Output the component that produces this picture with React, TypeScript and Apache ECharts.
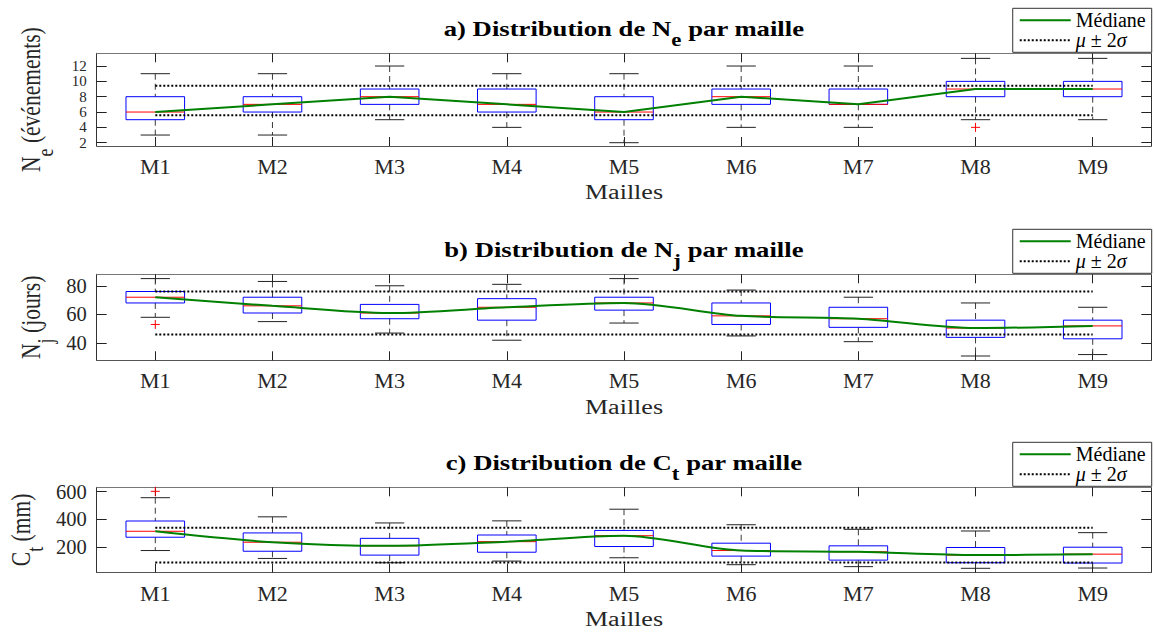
import { useEffect, useRef } from 'react';
import * as echarts from 'echarts';

const FONT = '"Liberation Serif", "Times New Roman", Times, serif';
const STRETCH = 1.27;

const categories = ['M1', 'M2', 'M3', 'M4', 'M5', 'M6', 'M7', 'M8', 'M9'];

// a) N_e (événements)
const neLow = [3, 3, 5, 4, 2, 4, 4, 5, 5];
const neQ1 = [5, 6, 7, 6, 5, 7, 7, 8, 8];
const neMedian = [6, 7, 8, 7, 6, 8, 7, 9, 9];
const neQ3 = [8, 8, 9, 9, 8, 9, 9, 10, 10];
const neHigh = [11, 11, 12, 11, 11, 12, 12, 13, 13];
const neOutliers = [[7, 4]];
const neBand = [5.57, 9.43];
const neTicks = [2, 4, 6, 8, 10, 12];

// b) N_j (jours)
const njLow = [58, 55, 47, 42, 54, 45, 41, 31, 32];
const njQ1 = [68, 61, 57, 56, 63, 53, 51, 44, 43];
const njMedian = [72, 66, 61, 65, 68, 59, 57, 50.5, 52];
const njQ3 = [76, 72, 67, 71, 72, 68, 65, 56, 56];
const njHigh = [85, 83, 80, 81, 85, 77, 72, 68, 65];
const njOutliers = [[0, 53]];
const njBand = [46, 76];
const njTicks = [40, 60, 80];

// c) C_t (mm)
const ctLow = [176, 119, 88, 100, 124, 74, 60, 48, 50];
const ctQ1 = [272, 171, 143, 164, 205, 136, 107, 88, 86];
const ctMedian = [315, 236, 210, 240, 283, 176, 167, 143, 150];
const ctQ3 = [389, 303, 264, 288, 321, 229, 210, 198, 200];
const ctHigh = [557, 419, 375, 390, 474, 362, 329, 317, 305];
const ctOutliers = [[0, 603]];
const ctBand = [90, 340];
const ctTicks = [200, 400, 600];

const panelTitles = [
  'a) Distribution de {n|N}{s|e}{n| par maille}',
  'b) Distribution de {n|N}{s|j}{n| par maille}',
  'c) Distribution de {n|C}{s|t}{n| par maille}',
];
const yLabels = [
  '{n|N}{s|e}{n| (événements)}',
  '{n|N}{s|j}{n| (jours)}',
  '{n|C}{s|t}{n| (mm)}',
];
const xLabel = 'Mailles';
const legendNames = ['Médiane', 'μ ± 2σ'];

const panels = [
  { low: neLow, q1: neQ1, med: neMedian, q3: neQ3, high: neHigh, out: neOutliers, band: neBand, ticks: neTicks, min: 1.57, max: 13.66, smooth: false as any, tickFont: 15, tickLH: 12 },
  { low: njLow, q1: njQ1, med: njMedian, q3: njQ3, high: njHigh, out: njOutliers, band: njBand, ticks: njTicks, min: 28, max: 88, smooth: 0.3 as any, tickFont: 20.5, tickLH: 21 },
  { low: ctLow, q1: ctQ1, med: ctMedian, q3: ctQ3, high: ctHigh, out: ctOutliers, band: ctBand, ticks: ctTicks, min: 17, max: 632, smooth: 0.3 as any, tickFont: 20.5, tickLH: 21 },
];

const GRID_LEFT = 96.7;
const GRID_RIGHT = 2.7;
const gridTops = [53.3, 274.3, 487.3];
const gridHeights = [92.7, 86, 85.3];
const yLabelX = [30.8, 30.8, 20.8];
const CENTER_X = (GRID_LEFT + (1154 - GRID_RIGHT)) / 2;

const renderBox = (_params: any, api: any) => {
  const i = api.value(0);
  const [x, yLo] = api.coord([i, api.value(1)]);
  const yQ1 = api.coord([i, api.value(2)])[1];
  const yMed = api.coord([i, api.value(3)])[1];
  const yQ3 = api.coord([i, api.value(4)])[1];
  const yHi = api.coord([i, api.value(5)])[1];
  const band = api.size([1, 0])[0];
  const bw = band * 0.25;
  const cw = band * 0.125;
  const dash = { stroke: '#3a3a3a', lineWidth: 1, lineDash: [6, 4], fill: null };
  const solid = { stroke: '#222', lineWidth: 1, fill: null };
  return {
    type: 'group',
    children: [
      { type: 'line', shape: { x1: x, y1: yHi, x2: x, y2: yQ3 }, style: dash },
      { type: 'line', shape: { x1: x, y1: yQ1, x2: x, y2: yLo }, style: dash },
      { type: 'line', shape: { x1: x - cw, y1: yHi, x2: x + cw, y2: yHi }, style: solid },
      { type: 'line', shape: { x1: x - cw, y1: yLo, x2: x + cw, y2: yLo }, style: solid },
      { type: 'rect', shape: { x: x - bw, y: yQ3, width: 2 * bw, height: yQ1 - yQ3 }, style: { fill: 'none', stroke: '#0000ff', lineWidth: 1 } },
      { type: 'line', shape: { x1: x - bw, y1: yMed, x2: x + bw, y2: yMed }, style: { stroke: '#ff0000', lineWidth: 1 } },
    ],
  };
};

const renderOutlier = (_params: any, api: any) => {
  const [x, y] = api.coord([api.value(0), api.value(1)]);
  const s = 4.5;
  return {
    type: 'group',
    children: [
      { type: 'line', shape: { x1: x - s, y1: y, x2: x + s, y2: y }, style: { stroke: '#ff0000', lineWidth: 1 } },
      { type: 'line', shape: { x1: x, y1: y - s, x2: x, y2: y + s }, style: { stroke: '#ff0000', lineWidth: 1 } },
    ],
  };
};

function buildOption() {
  const grid = panels.map((_p, k) => ({
    left: GRID_LEFT, right: GRID_RIGHT, top: gridTops[k], height: gridHeights[k], containLabel: false,
  }));

  const xAxis: any[] = [];
  const yAxis: any[] = [];
  panels.forEach((p, k) => {
    xAxis.push({
      type: 'category', gridIndex: k, data: categories, position: 'bottom', boundaryGap: true,
      axisLine: { show: true, onZero: false, lineStyle: { color: '#555', width: 1 } },
      axisTick: { show: true, inside: true, length: 9, alignWithLabel: true, interval: 0, lineStyle: { color: '#222' } },
      axisLabel: { show: true, interval: 0, margin: 9.5, fontFamily: FONT, fontSize: 22, color: '#262626' },
      splitLine: { show: false },
    });
    xAxis.push({
      type: 'category', gridIndex: k, data: categories, position: 'top', boundaryGap: true,
      axisLine: { show: true, onZero: false, lineStyle: { color: '#777', width: 1 } },
      axisTick: { show: true, inside: true, length: 9, alignWithLabel: true, interval: 0, lineStyle: { color: '#222' } },
      axisLabel: { show: false },
      splitLine: { show: false },
    });
    yAxis.push({
      type: 'value', gridIndex: k, position: 'left', min: p.min, max: p.max,
      axisLine: { show: true, lineStyle: { color: '#333', width: 1 } },
      axisTick: { show: true, inside: true, length: 10, interval: 0, customValues: p.ticks, lineStyle: { color: '#222' } },
      axisLabel: {
        show: true, interval: 0, customValues: p.ticks, margin: 10, fontFamily: FONT, fontSize: p.tickFont,
        lineHeight: p.tickLH, color: '#262626', showMinLabel: true, showMaxLabel: true, hideOverlap: false,
      },
      splitLine: { show: false },
    });
    yAxis.push({
      type: 'value', gridIndex: k, position: 'right', min: p.min, max: p.max,
      axisLine: { show: true, lineStyle: { color: '#333', width: 1 } },
      axisTick: { show: true, inside: true, length: 10, interval: 0, customValues: p.ticks, lineStyle: { color: '#222' } },
      axisLabel: { show: false, customValues: p.ticks },
      splitLine: { show: false },
    });
  });

  const series: any[] = [];
  panels.forEach((p, k) => {
    const axes = { xAxisIndex: 2 * k, yAxisIndex: 2 * k };
    series.push({
      type: 'custom', ...axes, z: 2, silent: true,
      data: categories.map((_c, i) => [i, p.low[i], p.q1[i], p.med[i], p.q3[i], p.high[i]]),
      encode: { x: 0, y: [1, 2, 3, 4, 5] },
      renderItem: renderBox,
    });
    series.push({
      type: 'line', name: legendNames[1], ...axes, z: 3, silent: true,
      data: categories.map(() => p.band[1]), symbol: 'none',
      lineStyle: { color: '#000', width: 2, type: [2, 2] }, itemStyle: { color: '#000' },
    });
    series.push({
      type: 'line', name: legendNames[1], ...axes, z: 3, silent: true,
      data: categories.map(() => p.band[0]), symbol: 'none',
      lineStyle: { color: '#000', width: 2, type: [2, 2] }, itemStyle: { color: '#000' },
    });
    series.push({
      type: 'line', name: legendNames[0], ...axes, z: 4, silent: true,
      data: p.med, symbol: 'none', smooth: p.smooth,
      lineStyle: { color: '#008000', width: 2 }, itemStyle: { color: '#008000' },
    });
    series.push({
      type: 'custom', ...axes, z: 5, silent: true,
      data: p.out, encode: { x: 0, y: 1 },
      renderItem: renderOutlier,
    });
  });

  const legend = gridTops.map((t) => ({
    data: legendNames, orient: 'vertical', right: 2.3, top: t - 45,
    itemWidth: 51, itemHeight: 14, itemGap: 0, padding: [2, 6, 2, 6],
    borderColor: '#333', borderWidth: 1, backgroundColor: '#fff', align: 'left', selectedMode: false,
    itemStyle: { opacity: 0 },
    textStyle: {
      fontFamily: FONT, fontSize: 20, color: '#000',
      rich: {
        i: { fontFamily: FONT, fontSize: 20, fontStyle: 'italic', color: '#000' },
        r: { fontFamily: FONT, fontSize: 20, color: '#000' },
      },
    },
    formatter: (n: string) => (n === legendNames[1] ? '{i|μ}{r| ± 2}{i|σ}' : '{r|' + n + '}'),
  }));

  const graphic: any[] = [];
  gridTops.forEach((t, k) => {
    graphic.push({
      type: 'text', x: CENTER_X, y: t - 24.5, scaleX: STRETCH, silent: true,
      style: {
        text: panelTitles[k], fontFamily: FONT, fontSize: 21, fontWeight: 'bold', fill: '#000',
        align: 'center', verticalAlign: 'middle', textAlign: 'center', textVerticalAlign: 'middle',
        rich: {
          n: { fontFamily: FONT, fontSize: 21, fontWeight: 'bold', fill: '#000' },
          s: { fontFamily: FONT, fontSize: 18, fontWeight: 'bold', fill: '#000', padding: [22, 0, 0, 0] },
        },
      },
    });
    graphic.push({
      type: 'text', x: CENTER_X, y: t + gridHeights[k] + 46.5, scaleX: STRETCH, silent: true,
      style: {
        text: xLabel, fontFamily: FONT, fontSize: 20.5, fill: '#262626',
        align: 'center', verticalAlign: 'middle', textAlign: 'center', textVerticalAlign: 'middle',
      },
    });
    graphic.push({
      type: 'text', x: yLabelX[k], y: t + gridHeights[k] / 2, rotation: Math.PI / 2, scaleY: STRETCH, silent: true,
      style: {
        text: yLabels[k], fontFamily: FONT, fontSize: 21.5, fill: '#262626',
        align: 'center', verticalAlign: 'middle', textAlign: 'center', textVerticalAlign: 'middle',
        rich: {
          n: { fontFamily: FONT, fontSize: 21.5, fill: '#262626' },
          s: { fontFamily: FONT, fontSize: 18, fill: '#262626', padding: [22, 0, 0, 0] },
        },
      },
    });
  });

  return {
    animation: false,
    backgroundColor: '#fff',
    grid, xAxis, yAxis, series, legend, graphic,
  };
}

export default function App() {
  const ref = useRef<HTMLDivElement>(null);
  useEffect(() => {
    const el = ref.current;
    if (!el) return;
    const chart = echarts.init(el, null, { renderer: 'svg' });
    chart.setOption(buildOption() as any);
    return () => chart.dispose();
  }, []);
  return (
    <div
      ref={ref}
      style={{ position: 'absolute', left: 0, top: 0, width: 1154, height: 634, background: '#fff' }}
    />
  );
}
